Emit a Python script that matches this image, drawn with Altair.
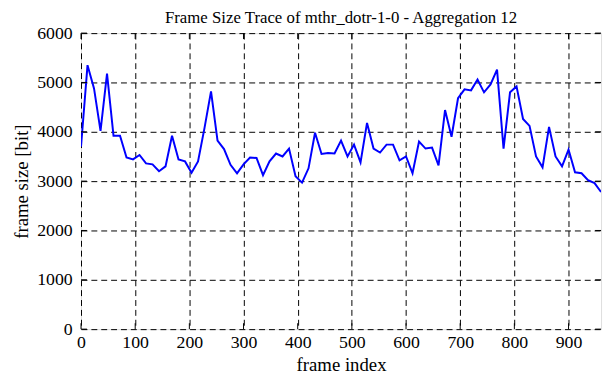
import altair as alt
import pandas as pd

frame_index = list(range(0, 961, 12))
frame_size = [
    3700, 5350, 4880, 4020, 5180, 3920, 3920, 3480, 3440, 3530,
    3360, 3340, 3200, 3300, 3920, 3440, 3400, 3170, 3400, 4080,
    4820, 3820, 3650, 3330, 3160, 3340, 3480, 3470, 3120, 3400,
    3560, 3500, 3660, 3100, 2970, 3260, 3980, 3550, 3570, 3560,
    3820, 3500, 3740, 3380, 4180, 3660, 3580, 3740, 3740, 3420,
    3500, 3160, 3800, 3660, 3680, 3320, 4440, 3900, 4680, 4860,
    4840, 5060, 4800, 4960, 5260, 3660, 4800, 4920, 4260, 4120,
    3500, 3280, 4100, 3500, 3300, 3640, 3180, 3160, 3020, 2960,
    2780,
]
x_ticks = [0, 100, 200, 300, 400, 500, 600, 700, 800, 900]
y_ticks = [0, 1000, 2000, 3000, 4000, 5000, 6000]

FONT = "Liberation Serif"
W, H = 527, 300
TICK = 6

df = pd.DataFrame({"frame": frame_index, "size": frame_size})
xt = pd.DataFrame({"v": x_ticks})
yt = pd.DataFrame({"v": y_ticks})

x_scale = alt.Scale(domain=[0, 960], nice=False, zero=False)
y_scale = alt.Scale(domain=[0, 6000], nice=False)

common_axis = dict(
    grid=True, gridDash=[6, 4], gridColor="black", gridOpacity=1, gridWidth=1,
    domain=False, ticks=False, labelFont=FONT, titleFont=FONT,
    labelFontSize=18, titleFontSize=19, labelColor="black", titleColor="black",
    titleFontWeight="normal", labelFlush=False, labelOverlap=False, format="d",
)

line = alt.Chart(df).mark_line(color="#0000ff", strokeWidth=2, clip=True).encode(
    x=alt.X("frame:Q", scale=x_scale,
            axis=alt.Axis(values=x_ticks, title="frame index", labelPadding=5,
                          titlePadding=4, **common_axis)),
    y=alt.Y("size:Q", scale=y_scale,
            axis=alt.Axis(values=y_ticks, title="frame size [bit]", labelPadding=9,
                          titlePadding=5, **common_axis)),
)

xb = alt.Chart(xt).mark_rule(color="black", strokeWidth=1).encode(
    x=alt.X("v:Q", scale=x_scale), y=alt.value(H), y2=alt.value(H - TICK))
xtp = alt.Chart(xt).mark_rule(color="black", strokeWidth=1).encode(
    x=alt.X("v:Q", scale=x_scale), y=alt.value(0), y2=alt.value(TICK))
yl = alt.Chart(yt).mark_rule(color="black", strokeWidth=1).encode(
    y=alt.Y("v:Q", scale=y_scale), x=alt.value(0), x2=alt.value(TICK))
yr = alt.Chart(yt).mark_rule(color="black", strokeWidth=1).encode(
    y=alt.Y("v:Q", scale=y_scale), x=alt.value(W), x2=alt.value(W - TICK))

chart = alt.layer(line, xb, xtp, yl, yr).properties(
    width=W, height=H,
    title=alt.TitleParams("Frame Size Trace of mthr_dotr-1-0 - Aggregation 12",
                          font=FONT, fontSize=17, fontWeight="normal",
                          anchor="middle", offset=-3, color="black"),
    autosize=alt.AutoSizeParams(type="none"),
    padding={"left": 74, "top": 23, "right": 3, "bottom": 43},
).configure_view(stroke="black", strokeWidth=2).configure(
    background="white", font=FONT
).configure_axis(labelFont=FONT, titleFont=FONT).configure_title(font=FONT)

chart.save("out.html", embed_options={"renderer": "svg", "actions": False})
